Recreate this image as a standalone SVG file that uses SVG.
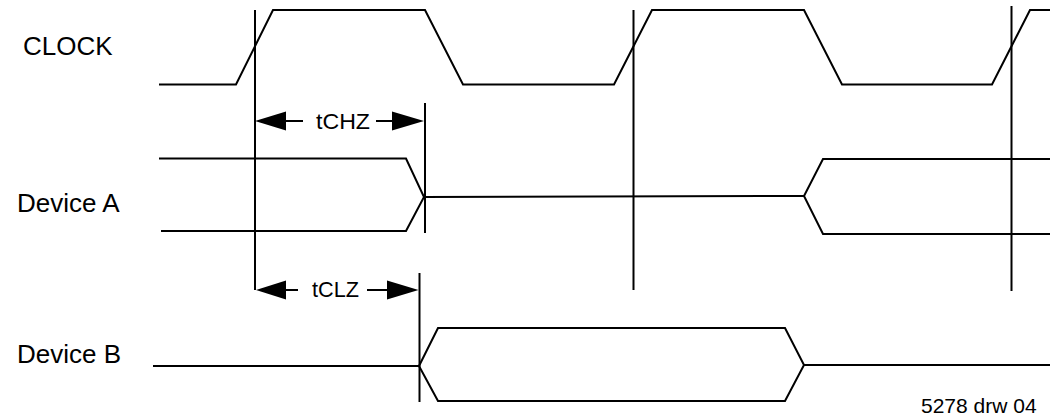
<svg xmlns="http://www.w3.org/2000/svg" width="1050" height="417" viewBox="0 0 1050 417">
<style>
.w{fill:none;stroke:#000;stroke-width:2;stroke-linejoin:miter}
.v{fill:none;stroke:#000;stroke-width:2}
.ah{fill:#000;stroke:none}
.lbl{font-family:"Liberation Sans",Arial,sans-serif;font-size:26px;fill:#000}
.tm{font-family:"Liberation Sans",Arial,sans-serif;font-size:22px;fill:#000}
.ft{font-family:"Liberation Sans",Arial,sans-serif;font-size:21px;fill:#000}
</style>
<rect width="1050" height="417" fill="#fff"/>
<g id="clock">
<text class="lbl" x="23" y="55">CLOCK</text>
<polyline class="w" points="159,84.5 236,84.5 273,10 425,10 463,84.5 614,84.5 652,10 804,10 842,84.5 992,84.5 1030,10 1050,10"/>
</g>
<g id="device-a">
<text class="lbl" x="17" y="212">Device A</text>
<polyline class="w" points="159,158.5 406,158.5 424,197 406,231 161,231"/>
<line class="w" x1="424" y1="197" x2="804" y2="196"/>
<polyline class="w" points="1050,159 823,159 804,196 823,234 1050,234"/>
</g>
<g id="device-b">
<text class="lbl" x="17" y="363">Device B</text>
<polyline class="w" points="153,366 419,366"/>
<polygon class="w" points="419,366 438,328 785,328 804,365 785,401 438,401"/>
<line class="w" x1="804" y1="365" x2="1050" y2="365"/>
</g>
<g id="connectors">
<line class="v" x1="255" y1="10" x2="255" y2="290"/>
<line class="v" x1="425" y1="103" x2="425" y2="233"/>
<line class="v" x1="633.5" y1="10" x2="633.5" y2="290"/>
<line class="v" x1="1011.5" y1="6" x2="1011.5" y2="291"/>
<line class="v" x1="419.5" y1="273" x2="419.5" y2="402"/>
<polygon class="ah" points="255,121 286,111.5 286,130.5"/>
<line class="v" x1="285" y1="121" x2="303" y2="121"/>
<line class="v" x1="376" y1="121" x2="393" y2="121"/>
<polygon class="ah" points="424,121 392,111.5 392,130.5"/>
<polygon class="ah" points="256,290 286,280.5 286,299.5"/>
<line class="v" x1="285" y1="290" x2="298" y2="290"/>
<line class="v" x1="367" y1="290" x2="388" y2="290"/>
<polygon class="ah" points="418.5,290 387,280.5 387,299.5"/>
</g>
<g id="labels">
<text class="tm" x="316" y="128.5" textLength="54" lengthAdjust="spacingAndGlyphs">tCHZ</text>
<text class="tm" x="312" y="297" textLength="47" lengthAdjust="spacingAndGlyphs">tCLZ</text>
<text class="ft" x="921" y="413">5278 drw 04</text>
</g>
</svg>
